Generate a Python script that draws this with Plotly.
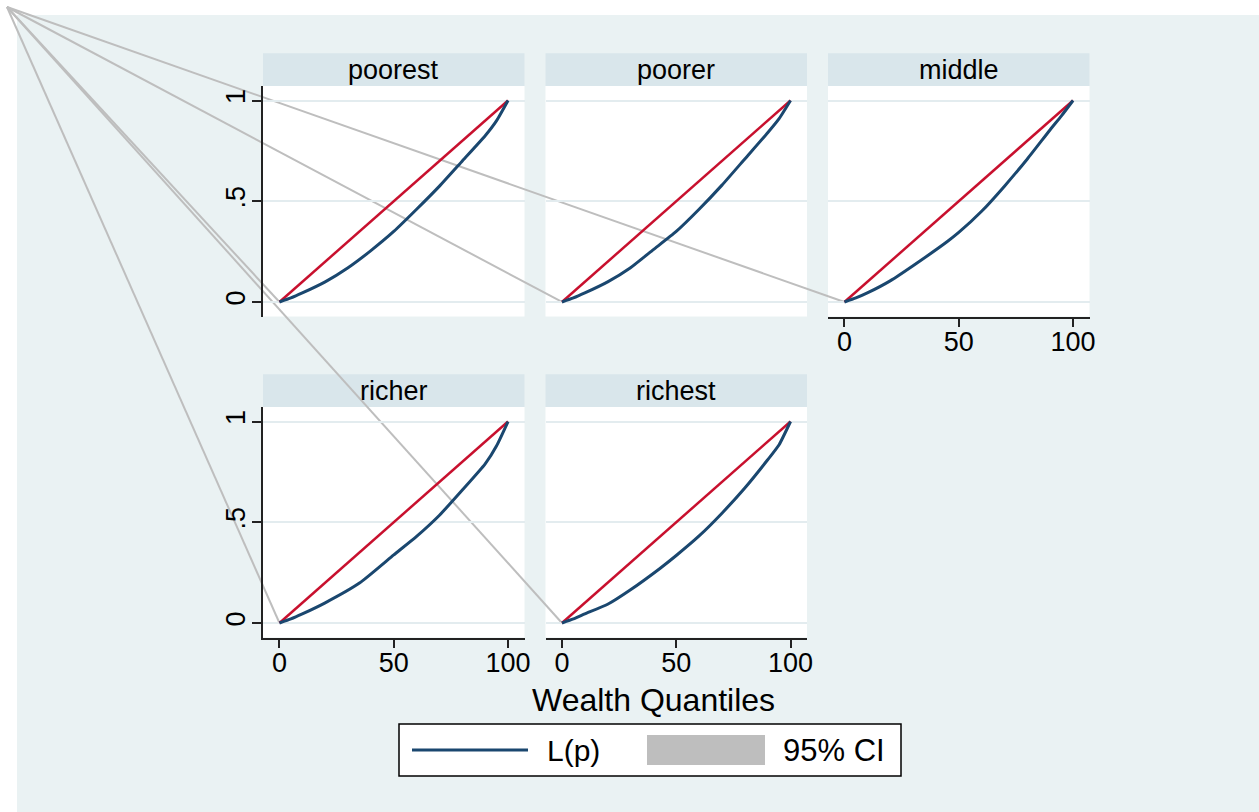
import plotly.graph_objects as go

W, H = 1259, 812

# Lorenz curve L(p) by wealth group (p in percent of population)
panels = ["poorest", "poorer", "middle", "richer", "richest"]

poorest_p = [0, 5, 10, 20, 30, 40, 50, 60, 70, 80, 90, 95, 100]
poorest_L = [0, 0.02, 0.045, 0.10, 0.17, 0.255, 0.35, 0.46, 0.575, 0.70, 0.825, 0.90, 1]

poorer_p = [0, 5, 10, 20, 30, 40, 50, 60, 70, 80, 90, 95, 100]
poorer_L = [0, 0.02, 0.045, 0.10, 0.17, 0.26, 0.35, 0.46, 0.58, 0.71, 0.84, 0.91, 1]

middle_p = [0, 5, 10, 20, 30, 45, 50, 60, 70, 80, 90, 95, 100]
middle_L = [0, 0.02, 0.045, 0.105, 0.18, 0.30, 0.345, 0.45, 0.575, 0.71, 0.855, 0.925, 1]

richer_p = [0, 5, 10, 20, 35, 50, 60, 70, 80, 90, 95, 100]
richer_L = [0, 0.02, 0.045, 0.10, 0.198, 0.338, 0.43, 0.535, 0.66, 0.79, 0.88, 1]

richest_p = [0, 5, 10, 20, 30, 43, 50, 60, 70, 80, 90, 95, 100]
richest_L = [0, 0.02, 0.045, 0.093, 0.165, 0.272, 0.335, 0.432, 0.545, 0.67, 0.81, 0.885, 1]

# line of perfect equality
equal_p = [0, 100]
equal_L = [0, 1]

x_ticks = [0, 50, 100]
y_ticks = [0, 0.5, 1]
y_ticktext = ["0", ".5", "1"]

curves = {
    "poorest": (poorest_p, poorest_L),
    "poorer": (poorer_p, poorer_L),
    "middle": (middle_p, middle_L),
    "richer": (richer_p, richer_L),
    "richest": (richest_p, richest_L),
}

# ---- layout geometry (pixels) ----
col_px = [(263, 524.5), (545.5, 807), (828, 1089.5)]
row_px = [(86, 316.5), (407, 637.5)]
strip_h = 32.7
cells = {"poorest": (0, 0), "poorer": (0, 1), "middle": (0, 2),
         "richer": (1, 0), "richest": (1, 1)}
bottom_panels = {"middle", "richer", "richest"}
left_panels = {"poorest", "richer"}
x_range = [-7.2, 107.2]
y_range = [-0.072, 1.072]

# anchor point of the stray CI outline segments, in canvas pixels
ci_anchor = (7, 7)

NAVY = "#1A476F"
RED = "#C8102E"
CI_GREY = "#BEBEBE"
BG = "#EAF2F3"
STRIP = "#D9E6EB"
GRID = "#E3ECEF"
FONT = "Liberation Sans, Arial, sans-serif"


def fx(px):
    return px / W


def fy(py):
    return 1 - py / H


fig = go.Figure()
layout = dict(
    width=W, height=H,
    margin=dict(l=0, r=0, t=0, b=0),
    paper_bgcolor="white",
    plot_bgcolor="rgba(0,0,0,0)",
    showlegend=False,
    font=dict(family=FONT, color="black"),
)

# full-canvas overlay used for the CI outline segments
layout["xaxis"] = dict(domain=[0, 1], range=[0, W], visible=False, fixedrange=True)
layout["yaxis"] = dict(domain=[0, 1], range=[H, 0], visible=False, fixedrange=True)

shapes = [dict(type="rect", xref="paper", yref="paper", x0=fx(17), x1=1, y0=0, y1=fy(15),
               fillcolor=BG, line=dict(width=0), layer="below")]
annotations = []

ci_x, ci_y = [], []
for i, name in enumerate(panels):
    n = i + 2
    r, c = cells[name]
    x0, x1 = col_px[c]
    y0, y1 = row_px[r]
    xa, ya = f"xaxis{n}", f"yaxis{n}"
    bottom = name in bottom_panels
    left = name in left_panels
    layout[xa] = dict(
        domain=[fx(x0), fx(x1)], range=x_range, anchor=f"y{n}",
        showgrid=False, zeroline=False, automargin=False,
        tickvals=x_ticks, showticklabels=bottom,
        ticks="outside" if bottom else "", ticklen=9, tickwidth=1.5, tickcolor="#222",
        showline=bottom, linecolor="#222", linewidth=1.5,
        tickfont=dict(size=27, family=FONT, color="black"), ticklabelstandoff=-9,
    )
    layout[ya] = dict(
        domain=[fy(y1), fy(y0)], range=y_range, anchor=f"x{n}",
        showgrid=True, gridcolor=GRID, gridwidth=2, zeroline=False, automargin=False,
        tickvals=y_ticks, ticktext=y_ticktext, showticklabels=left, tickangle=-90,
        ticks="outside" if left else "", ticklen=9, tickwidth=1.5, tickcolor="#222",
        showline=left, linecolor="#222", linewidth=1.5,
        tickfont=dict(size=27, family=FONT, color="black"), ticklabelstandoff=-4,
    )
    # plot region and strip
    shapes.append(dict(type="rect", xref="paper", yref="paper", x0=fx(x0), x1=fx(x1),
                       y0=fy(y1), y1=fy(y0), fillcolor="white", line=dict(width=0), layer="below"))
    shapes.append(dict(type="rect", xref="paper", yref="paper", x0=fx(x0), x1=fx(x1),
                       y0=fy(y0), y1=fy(y0 - strip_h), fillcolor=STRIP, line=dict(width=0),
                       layer="below"))
    annotations.append(dict(text=name, xref="paper", yref="paper", x=fx((x0 + x1) / 2),
                            y=fy(y0 - strip_h / 2), showarrow=False, xanchor="center",
                            yanchor="middle", font=dict(size=27, family=FONT, color="black")))

    # origin of this panel in canvas pixels, from its axis scales
    ox = x0 + (0 - x_range[0]) / (x_range[1] - x_range[0]) * (x1 - x0)
    oy = y1 - (0 - y_range[0]) / (y_range[1] - y_range[0]) * (y1 - y0)
    ci_x += [ci_anchor[0], ox, None]
    ci_y += [ci_anchor[1], oy, None]

# CI outline segments (drawn first, beneath the curves)
fig.add_trace(go.Scatter(x=ci_x, y=ci_y, mode="lines", xaxis="x", yaxis="y",
                         line=dict(color=CI_GREY, width=2), hoverinfo="skip"))

for i, name in enumerate(panels):
    n = i + 2
    p, L = curves[name]
    fig.add_trace(go.Scatter(x=equal_p, y=equal_L, mode="lines", xaxis=f"x{n}", yaxis=f"y{n}",
                             line=dict(color=RED, width=2.5), hoverinfo="skip"))
    fig.add_trace(go.Scatter(x=p, y=L, mode="lines", xaxis=f"x{n}", yaxis=f"y{n}",
                             line=dict(color=NAVY, width=3, shape="spline", smoothing=0.5),
                             name="L(p)"))

# x-axis title
annotations.append(dict(text="Wealth Quantiles", xref="paper", yref="paper", x=fx(653), y=fy(700),
                        showarrow=False, xanchor="center", yanchor="middle",
                        font=dict(size=32, family=FONT, color="black")))

# legend box
shapes.append(dict(type="rect", xref="paper", yref="paper", x0=fx(399), x1=fx(901),
                   y0=fy(776), y1=fy(724), fillcolor="white", line=dict(color="black", width=1.5)))
shapes.append(dict(type="line", xref="paper", yref="paper", x0=fx(412), x1=fx(528),
                   y0=fy(750), y1=fy(750), line=dict(color=NAVY, width=3)))
shapes.append(dict(type="rect", xref="paper", yref="paper", x0=fx(647), x1=fx(765),
                   y0=fy(765), y1=fy(735), fillcolor=CI_GREY, line=dict(width=0)))
annotations.append(dict(text="L(p)", xref="paper", yref="paper", x=fx(545), y=fy(750),
                        showarrow=False, xanchor="left", yanchor="middle",
                        font=dict(size=30, family=FONT, color="black")))
annotations.append(dict(text="95% CI", xref="paper", yref="paper", x=fx(781), y=fy(750),
                        showarrow=False, xanchor="left", yanchor="middle",
                        font=dict(size=31, family=FONT, color="black")))

layout["shapes"] = shapes
layout["annotations"] = annotations
fig.update_layout(**layout)
fig.write_html("out.html")
